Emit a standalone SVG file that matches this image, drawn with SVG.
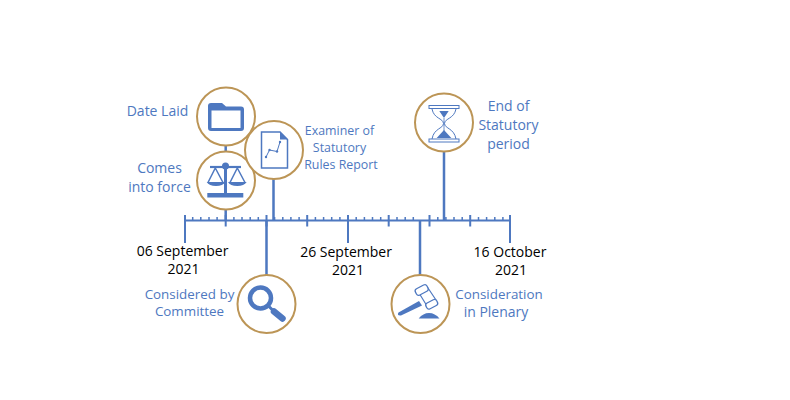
<svg xmlns="http://www.w3.org/2000/svg" width="790" height="400" viewBox="0 0 790 400">
<style>
text{font-family:"Open Sans","Liberation Sans",sans-serif;text-anchor:middle}
.l{font-size:14px;fill:#4e78c0}
.m{font-size:13.400px;fill:#4e78c0}
.s{font-size:12.400px;fill:#4e78c0}
.d{font-size:14px;fill:#000}
.c{fill:#fff;stroke:#bc9556;stroke-width:2}
.a{stroke:#4e78c0;fill:none}
.f{fill:#4e78c0;stroke:none}
.n{fill:none;stroke:#4e78c0}
</style>
<rect width="790" height="400" fill="#fff"/>
<g id="connectors" class="a">
<path stroke-width="2" d="M184.500 220.500H510.500"/>
<path stroke-width="1.500" d="M192.700 217V220M200.800 217V220M209 217V220M217.100 217V220M233.900 217V220M242 217V220M250.200 217V220M258.300 217V220M274.600 217V220M282.800 217V220M290.900 217V220M299.100 217V220M315.400 217V220M323.600 217V220M331.700 217V220M339.900 217V220M356.200 217V220M364.400 217V220M372.500 217V220M380.700 217V220M397 217V220M405.200 217V220M413.300 217V220M437.800 217V220M445.900 217V220M454 217V220M462.200 217V220M478.500 217V220M486.600 217V220M494.800 217V220M502.900 217V220"/>
<path stroke-width="2" d="M225.700 215V226.500M266.500 215V226.500M307.200 215V226.500M348 215V226.500M388.700 215V226.500M429.500 215V226.500M470.200 215V226.500"/>
<path stroke-width="2" d="M185 215V243M348 220V243M510 215V243"/>
<path stroke-width="2.500" d="M266.500 220V275M420 220V275M444 151V220M273.500 178V220M225.700 208V220M225.700 145V152"/>
</g>
<g id="date-laid">
<circle class="c" cx="226" cy="116.500" r="29"/>
<path class="f" d="M208 106a3 3 0 0 1 3-3h11l4 3.500h15a3 3 0 0 1 3 3v18.500a3 3 0 0 1-3 3h-30a3 3 0 0 1-3-3z"/>
<rect x="211.500" y="110.500" width="29" height="17.500" fill="#fff"/>
<text class="l" x="157.500" y="116">Date Laid</text>
</g>
<g id="comes-into-force">
<circle class="c" cx="226" cy="180.500" r="29"/>
<circle class="f" cx="225.500" cy="166" r="3.500"/>
<rect class="f" x="224" y="166" width="3" height="28"/>
<rect class="f" x="207.300" y="193" width="36" height="4.500"/>
<path class="n" stroke-width="2.200" d="M210 167H241"/>
<path class="n" stroke-width="1.500" d="M215.300 168L208 182.500M215.300 168L223 182.500M237.300 168L230 182.500M237.300 168L245 182.500"/>
<path class="f" d="M206.700 182H225.300Q223 186 216 186Q209 186 206.700 182zM228 182H246.700Q244 186 237.300 186Q230 186 228 182z"/>
<text class="l" x="159.500" y="173">Comes</text>
<text class="l" x="159.500" y="192">into force</text>
</g>
<g id="examiner-report">
<circle class="c" cx="274" cy="150" r="29"/>
<path class="n" stroke-width="1.500" d="M261.500 132H280L287.500 139.500V168H261.500z"/>
<path class="f" d="M280 131.500L288 139.500H280z"/>
<path class="n" d="M266 157L269.500 150L277 151.500L280 142"/>
<circle class="f" cx="266" cy="157" r="1.200"/><circle class="f" cx="269.500" cy="150" r="1.200"/><circle class="f" cx="277" cy="151.500" r="1.200"/><circle class="f" cx="280" cy="142" r="1.200"/>
<text class="s" x="339.500" y="135">Examiner of</text>
<text class="s" x="339.500" y="152">Statutory</text>
<text class="s" x="341" y="169">Rules Report</text>
</g>
<g id="end-of-period">
<circle class="c" cx="444" cy="122.500" r="29"/>
<rect x="429" y="105.500" width="30" height="3" fill="#fff" stroke="#4e78c0"/>
<rect x="429" y="139" width="30" height="3" fill="#fff" stroke="#4e78c0"/>
<path class="n" d="M432 109C434 119 443 118 443.500 123.500C443 129 434 128 432 139M456 109C454 119 445 118 444.500 123.500C445 129 454 128 456 139"/>
<path class="n" stroke-width="0.800" d="M444 118V132"/>
<path class="f" d="M439.300 111H448.700L444 118zM436.700 138L444 130L451.300 138z"/>
<text class="l" x="508.500" y="111">End of</text>
<text class="l" x="508.500" y="130">Statutory</text>
<text class="l" x="508.500" y="149">period</text>
</g>
<g id="considered-by-committee">
<circle class="c" cx="266.500" cy="304" r="29"/>
<circle cx="260.500" cy="298" r="10.500" fill="none" stroke="#4e78c0" stroke-width="4.500"/>
<path stroke="#4e78c0" stroke-width="3" d="M268 305.500L274 311.500" fill="none"/>
<path stroke="#4e78c0" stroke-width="6.500" stroke-linecap="round" d="M274 311.500L282.500 318.500" fill="none"/>
<text class="m" x="189.500" y="299">Considered by</text>
<text class="m" x="189.500" y="316">Committee</text>
</g>
<g id="consideration-in-plenary">
<circle class="c" cx="420.500" cy="304" r="29"/>
<path class="f" d="M398.500 312.500L419 301L422 305.500L401 315.500Q396.500 316 398.500 312.500z"/>
<path d="M419 293L428 288L436 300L427 306z" fill="#fff" stroke="#4e78c0" stroke-width="1.200" stroke-linejoin="round"/>
<rect x="415.200" y="286.500" width="13" height="7" rx="2.500" transform="rotate(-28 421.700 290)" fill="#fff" stroke="#4e78c0" stroke-width="1.300"/>
<rect x="425.700" y="301" width="12" height="6.500" rx="2.500" transform="rotate(-28 431.700 304.200)" fill="#fff" stroke="#4e78c0" stroke-width="1.300"/>
<path class="f" d="M418.700 318.500Q423 313 429 313Q435 313 439.500 318.500z"/>
<text class="m" x="499" y="299">Consideration</text>
<text class="l" x="496" y="317">in Plenary</text>
</g>
<g id="dates">
<text class="d" x="182.500" y="256">06 September</text>
<text class="d" x="183.500" y="274">2021</text>
<text class="d" x="346" y="257">26 September</text>
<text class="d" x="348" y="275">2021</text>
<text class="d" x="510" y="257">16 October</text>
<text class="d" x="511" y="275">2021</text>
</g>
</svg>
